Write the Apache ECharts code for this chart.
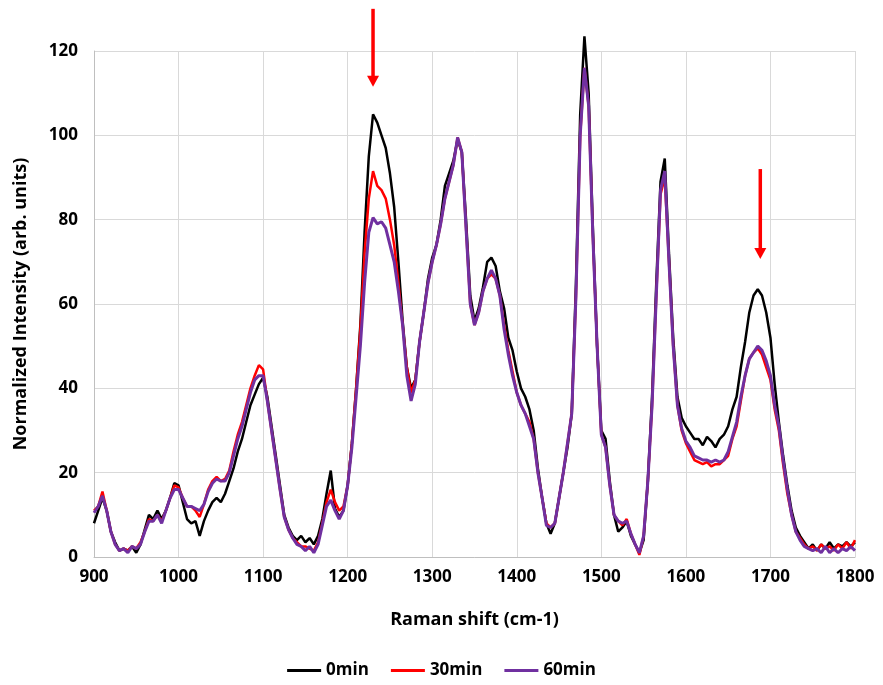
<!DOCTYPE html>
<html>
<head>
<meta charset="utf-8">
<script src="https://cdn.jsdelivr.net/npm/echarts@6/dist/echarts.min.js"></script>
<style>
html,body{margin:0;padding:0;background:#fff;}
#c{width:883px;height:685px;}
</style>
</head>
<body>
<div id="c"></div>
<script>
// Raman shift (cm-1), 5 cm-1 steps from 900 to 1800
var shiftStart = 900, shiftStep = 5;
var seriesNames = ['0min', '30min', '60min'];

var min0 = [8,11,14,11,6,3.5,1.5,2,1.5,2.5,1,3,6.5,10,9,11,9,11,14,17.5,
17,13,9,8,8.5,5,8.5,11,13,14,13,15,18,21,25,28,32,36,38.5,41,
42.5,38,31,24,17,10,7,5,4,5,3.5,4.5,3,5,9,15,20.5,11.5,9.5,11,
17,27,40,55,77,95,105,103,100,97,91,83,70,56,45,40,42,51,58,66,
71,74,80,88,91,94,99,96,80,62,56,59,64,70,71,69,63,59,52,49,
44,40,38,35,30,21,14,8,5.5,8,14,20,26,34,65,105,123.5,110,78,50,
30,28,18,10,6,7,8.5,5,3,1,4,18,38,65,89,94.5,72,52,38,33,
31,29.5,28,28,26.5,28.5,27.5,26,28,29,31,35,38,45,51,58,62,63.5,62,58,
52,41,32,24,17,11,7,5,3.5,2,3,1.5,3,2,3.5,2,3,2.5,3.5,2.5,3.5];

var min30 = [11,12,15.5,11,6,3,1.5,2,1.5,2.5,2,3.5,6,9,8.5,10,8.5,11,14,17,
16.5,14,12,12,11,9.5,12.5,16,18,19,18,18.5,20.5,25,29,32,36,40,43,45.5,
44.5,37,30,23,16,9.5,6.5,4.5,3.5,2.5,2.5,2,1.5,3.5,8,13,16,13,11,12,
17,27,40,54,72,85,91.5,88,87,85,80,74,65,55,45,39,42,51,58,65,
70,74,79,85,89,93,99.5,96,78,60,55,58,63,66,67,66,62,55,49,44,
39,36,34,32,28,20,14,8,7,8,14,20,27,34,62,100,116,107,76,50,
29,26,17,10,8.5,7.5,9,5.5,3,0.5,5,18,36,62,86,90,70,50,36,30,
27,25,23,22.5,22,22.5,21.5,22,22,23,24,28,31,37,43,47,48.5,49.5,48,45,
42,35,30,22,15,10,6,4.5,3,2,2.5,1.5,3,2,2.5,1.5,3,2,3.5,2,4];

var min60 = [10.5,12,14.5,11,6,3,1.5,2,1,2.5,2,3,6,8.5,8.5,10,8,11,14,16,
16,14,12,12,11.5,11,12.5,15.5,17.5,18.5,18,18,20,24,28,31,35,39,42,43,
43,37,30,23,16,9.5,6.5,4.5,3,2.5,1.5,2.5,1,3,7.5,12,13.5,11,9,11,
17,26,38,50,65,77,80.5,79,79.5,78,74,70,63,55,43,37,41,51,58,65,
70,74,79,85,89,93,99.5,96,78,60,55,58,63,66,68,66,62,54,48,43,
39,36,34,31,28,20,14,7.5,7,8,14,20,27,34,62,100,116,107,76,50,
29,26,17,10,8.5,8,8.5,5.5,3,1,5,18,36,62,87,91.5,70,50,36,30.5,
27.5,26,24,23.5,23,23,22.5,23,22.5,23,25,28.5,32,38,43,47,48.5,50,49,46.5,
43,36,31,23,16,10,6,4,2.5,2,1.5,2,1,2.5,1,2,1,2,1.5,2.5,1.5];

// annotation arrows (data coords): x, top value, tip value
var arrowX = [1230, 1688];
var arrowTop = [130, 92];
var arrowTip = [111.5, 70.7];

var colors = ['#000000', '#ff0000', '#7030a0'];
var widths = [2.5, 2.5, 3];

function pairs(arr) {
  return arr.map(function (v, i) { return [shiftStart + i * shiftStep, v]; });
}

var font = 'Open Sans';
var chart = echarts.init(document.getElementById('c'), null, {renderer: 'canvas'});
var all = [min0, min30, min60];
var option = {
  animation: false,
  backgroundColor: '#ffffff',
  grid: {left: 94, right: 28, top: 51, bottom: 128},
  legend: {
    bottom: 1,
    left: 'center',
    itemWidth: 34,
    itemHeight: 3,
    itemGap: 22,
    icon: 'rect',
    data: seriesNames,
    textStyle: {fontFamily: font, fontWeight: 'bold', fontSize: 17, color: '#000'}
  },
  xAxis: {
    type: 'value', min: 900, max: 1800, interval: 100,
    name: 'Raman shift (cm-1)', nameLocation: 'middle', nameGap: 54,
    nameTextStyle: {fontFamily: font, fontWeight: 'bold', fontSize: 18, color: '#000'},
    axisLine: {show: true, lineStyle: {color: '#bfbfbf', width: 1}},
    axisTick: {show: false},
    axisLabel: {fontFamily: font, fontWeight: 'bold', fontSize: 17, color: '#000', margin: 12,
      formatter: function (v) { return String(v); }},
    splitLine: {show: true, lineStyle: {color: '#d9d9d9', width: 1}}
  },
  yAxis: {
    type: 'value', min: 0, max: 120, interval: 20,
    name: 'Normalized Intensity (arb. units)', nameLocation: 'middle', nameGap: 64,
    nameTextStyle: {fontFamily: font, fontWeight: 'bold', fontSize: 18, color: '#000'},
    axisLine: {show: true, lineStyle: {color: '#bfbfbf', width: 1}},
    axisTick: {show: false},
    axisLabel: {fontFamily: font, fontWeight: 'bold', fontSize: 17, color: '#000', margin: 16,
      formatter: function (v) { return String(v); }},
    splitLine: {show: true, lineStyle: {color: '#d9d9d9', width: 1}}
  },
  series: seriesNames.map(function (n, i) {
    return {
      name: n, type: 'line', data: pairs(all[i]), showSymbol: false, symbol: 'none',
      clip: false,
      color: colors[i],
      lineStyle: {color: colors[i], width: widths[i]},
      z: 2 + i
    };
  })
};
chart.setOption(option);

var graphics = [];
for (var k = 0; k < arrowX.length; k++) {
  var p1 = chart.convertToPixel({gridIndex: 0}, [arrowX[k], arrowTop[k]]);
  var p2 = chart.convertToPixel({gridIndex: 0}, [arrowX[k], arrowTip[k]]);
  var headH = 11, headW = 6;
  graphics.push({
    type: 'line', z: 100,
    shape: {x1: p1[0], y1: p1[1], x2: p2[0], y2: p2[1] - headH + 1},
    style: {stroke: '#ff0000', lineWidth: 3.5}
  });
  graphics.push({
    type: 'polygon', z: 100,
    shape: {points: [[p2[0] - headW, p2[1] - headH], [p2[0] + headW, p2[1] - headH], [p2[0], p2[1]]]},
    style: {fill: '#ff0000'}
  });
}
chart.setOption({graphic: graphics});
</script>
</body>
</html>
